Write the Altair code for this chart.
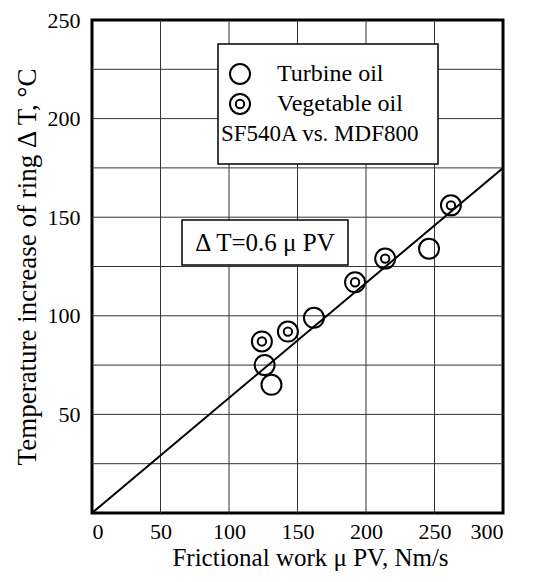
import altair as alt
import pandas as pd

# ---- data ----
turbine_x = [126, 131, 162, 246]
turbine_y = [75, 65, 99, 134]
veg_x = [124, 143, 192, 214, 262]
veg_y = [87, 92, 117, 129, 156]
line_x = [0, 300]
line_y = [0, 175]
x_ticks = [0, 50, 100, 150, 200, 250, 300]
y_ticks = [50, 100, 150, 200, 250]
grid_x = [50, 100, 150, 200, 250]
grid_y = [25, 50, 75, 100, 125, 150, 175, 200, 225]
series = ["Turbine oil", "Vegetable oil"]

FONT = "Liberation Serif"
W, H = 411, 493

pts = pd.DataFrame(
    {"x": turbine_x + veg_x,
     "y": turbine_y + veg_y,
     "oil": [series[0]] * len(turbine_x) + [series[1]] * len(veg_x)}
)
line_df = pd.DataFrame({"x": line_x, "y": line_y})
gx = pd.DataFrame({"x": grid_x})
gy = pd.DataFrame({"y": grid_y})
one = pd.DataFrame({"k": [0]})

xs = alt.Scale(domain=[0, 300], nice=False)
ys = alt.Scale(domain=[0, 250], nice=False)

x_axis = alt.Axis(values=x_ticks, title="Frictional work  μ PV, Nm/s", labelPadding=8,
                  titlePadding=3, titleFontSize=25, titleX=218, titleAlign="center")
y_axis = alt.Axis(values=y_ticks, title="Temperature increase of ring  Δ T, °C", labelPadding=12,
                  titlePadding=6, titleFontSize=27)

double_circle = ("M-1,0A1,1,0,1,1,1,0A1,1,0,1,1,-1,0Z"
                 "M-0.42,0A0.42,0.42,0,1,1,0.42,0A0.42,0.42,0,1,1,-0.42,0Z")

grid_v = alt.Chart(gx).mark_rule(color="#333", strokeWidth=1).encode(
    x=alt.X("x:Q", scale=xs, axis=x_axis)
)
grid_h = alt.Chart(gy).mark_rule(color="#333", strokeWidth=1).encode(
    y=alt.Y("y:Q", scale=ys, axis=y_axis)
)

legend_box = alt.Chart(one).mark_rect(fill="white", stroke="black", strokeWidth=1.5).encode(
    x=alt.value(126), x2=alt.value(346), y=alt.value(24), y2=alt.value(144)
)
legend_note = alt.Chart(one).mark_text(
    text="SF540A vs. MDF800", font=FONT, fontSize=23, align="left", baseline="middle", color="black"
).encode(x=alt.value(129), y=alt.value(114))

eq_box = alt.Chart(one).mark_rect(fill="white", stroke="black", strokeWidth=1.5).encode(
    x=alt.value(90), x2=alt.value(256), y=alt.value(200), y2=alt.value(245)
)
eq_text = alt.Chart(one).mark_text(
    text="Δ T=0.6 μ PV", font=FONT, fontSize=25, align="center", baseline="middle", color="black"
).encode(x=alt.value(173), y=alt.value(223))

fit = alt.Chart(line_df).mark_line(color="black", strokeWidth=2).encode(
    x=alt.X("x:Q", scale=xs), y=alt.Y("y:Q", scale=ys)
)

points = alt.Chart(pts).mark_point(filled=False, size=400, strokeWidth=2, color="black", opacity=1).encode(
    x=alt.X("x:Q", scale=xs),
    y=alt.Y("y:Q", scale=ys),
    shape=alt.Shape(
        "oil:N",
        scale=alt.Scale(domain=series, range=["circle", double_circle]),
        legend=alt.Legend(
            title=None, orient="none", legendX=136, legendY=42,
            labelFont=FONT, labelFontSize=24, labelColor="black",
            symbolSize=400, symbolStrokeWidth=2, symbolStrokeColor="black",
            symbolFillColor="transparent", labelOffset=25, rowPadding=2, padding=0,
        ),
    ),
)

chart = alt.layer(
    grid_v, grid_h, legend_box, eq_box, fit, points, legend_note, eq_text
).properties(
    width=W, height=H,
    background="white",
    autosize=alt.AutoSizeParams(type="none"),
    padding={"left": 84, "top": 12, "right": 24, "bottom": 61},
).configure_view(
    stroke="black", strokeWidth=3
).configure_axis(
    labelFont=FONT, labelFontSize=22, labelColor="black",
    titleFont=FONT, titleFontWeight="normal", titleColor="black",
    domain=False, ticks=False, grid=False,
)

chart.save("out.html", embed_options={"renderer": "svg", "actions": False})
